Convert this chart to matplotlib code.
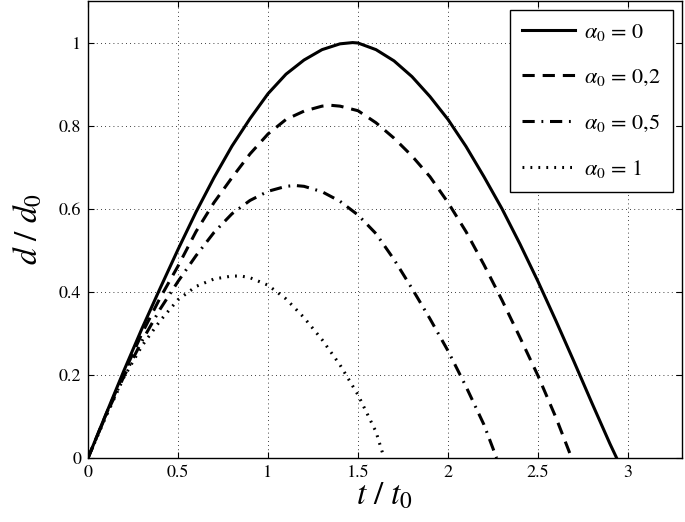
import matplotlib
matplotlib.use('Agg')
import matplotlib.pyplot as plt

# values
t_a0 = [0, 0.1, 0.2, 0.3, 0.4, 0.5, 0.6, 0.7, 0.8, 0.9, 1.0, 1.1, 1.2, 1.3, 1.4, 1.47,
        1.5, 1.6, 1.7, 1.8, 1.9, 2.0, 2.1, 2.2, 2.3, 2.4, 2.5, 2.6, 2.7, 2.8, 2.9, 2.937]
d_a0 = [0, 0.106, 0.211, 0.312, 0.408, 0.502, 0.592, 0.675, 0.751, 0.817, 0.877, 0.924, 0.958, 0.983, 0.997, 1.0,
        0.999, 0.983, 0.956, 0.918, 0.87, 0.815, 0.75, 0.677, 0.6, 0.515, 0.425, 0.33, 0.232, 0.132, 0.034, 0]

t_a02 = [0, 0.1, 0.2, 0.3, 0.4, 0.5, 0.6, 0.7, 0.8, 0.9, 1.0, 1.1, 1.2, 1.3, 1.35, 1.4,
         1.5, 1.6, 1.7, 1.8, 1.9, 2.0, 2.1, 2.2, 2.3, 2.4, 2.5, 2.6, 2.687]
d_a02 = [0, 0.105, 0.205, 0.3, 0.385, 0.462, 0.545, 0.615, 0.675, 0.732, 0.78, 0.815, 0.835, 0.847, 0.849, 0.847,
         0.836, 0.807, 0.77, 0.727, 0.677, 0.615, 0.545, 0.465, 0.38, 0.29, 0.198, 0.097, 0]

t_a05 = [0, 0.1, 0.2, 0.3, 0.4, 0.5, 0.6, 0.7, 0.8, 0.9, 1.0, 1.1, 1.15, 1.2, 1.3, 1.4,
         1.5, 1.6, 1.7, 1.8, 1.9, 2.0, 2.1, 2.2, 2.27]
d_a05 = [0, 0.103, 0.197, 0.282, 0.358, 0.425, 0.487, 0.543, 0.588, 0.62, 0.642, 0.654, 0.656, 0.654, 0.641, 0.618,
         0.585, 0.54, 0.478, 0.408, 0.335, 0.258, 0.172, 0.08, 0]

t_a1 = [0, 0.1, 0.2, 0.3, 0.4, 0.5, 0.6, 0.7, 0.8, 0.85, 0.9, 1.0, 1.1, 1.2, 1.3, 1.4, 1.5, 1.6, 1.645]
d_a1 = [0, 0.1, 0.195, 0.27, 0.33, 0.381, 0.413, 0.431, 0.438, 0.438, 0.434, 0.416, 0.383, 0.338, 0.285, 0.224, 0.152, 0.063, 0]

labels = [r'$\alpha_0$ = 0', r'$\alpha_0$ = 0,2', r'$\alpha_0$ = 0,5', r'$\alpha_0$ = 1']
xticks = [0, 0.5, 1, 1.5, 2, 2.5, 3]
xticklabels = ['0', '0.5', '1', '1.5', '2', '2.5', '3']
yticks = [0, 0.2, 0.4, 0.6, 0.8, 1]
yticklabels = ['0', '0.2', '0.4', '0.6', '0.8', '1']

plt.rcParams['font.family'] = ['STIXGeneral', 'DejaVu Serif']
plt.rcParams['mathtext.fontset'] = 'stix'

fig = plt.figure(figsize=(6.85, 5.22), dpi=100)
ax = fig.add_axes([0.1285, 0.1226, 0.8671, 0.8754])

ax.plot(t_a0, d_a0, color='black', lw=2.2, ls='-', label=labels[0])
ax.plot(t_a02, d_a02, color='black', lw=2.2, ls=(0, (4, 2.6)), label=labels[1])
ax.plot(t_a05, d_a05, color='black', lw=2.2, ls=(0, (4, 2.2, 0.6, 2.2)), label=labels[2])
ax.plot(t_a1, d_a1, color='black', lw=2.2, ls=(0, (0.6, 2.0)), label=labels[3])

ax.set_xlim(0, 3.3)
ax.set_ylim(0, 1.1)
ax.set_xticks(xticks)
ax.set_xticklabels(xticklabels)
ax.set_yticks(yticks)
ax.set_yticklabels(yticklabels)
ax.tick_params(direction='in', top=True, right=True, labelsize=13, length=4, width=0.8, pad=5)
ax.grid(True, color='black', ls=(0, (1, 4)), lw=0.6)
for s in ax.spines.values():
    s.set_linewidth(1.0)

ax.set_xlabel(r'$t\ /\ t_0$', fontsize=24, labelpad=0)
ax.set_ylabel(r'$d\ /\ d_0$', fontsize=24, labelpad=10)

leg = ax.legend(loc='upper right', fontsize=16, handlelength=2.4, handletextpad=0.4,
                labelspacing=1.1, borderpad=0.55, fancybox=False, framealpha=1,
                edgecolor='black', borderaxespad=0.4)
leg.get_frame().set_linewidth(1.0)

fig.savefig('out.png', dpi=100)
